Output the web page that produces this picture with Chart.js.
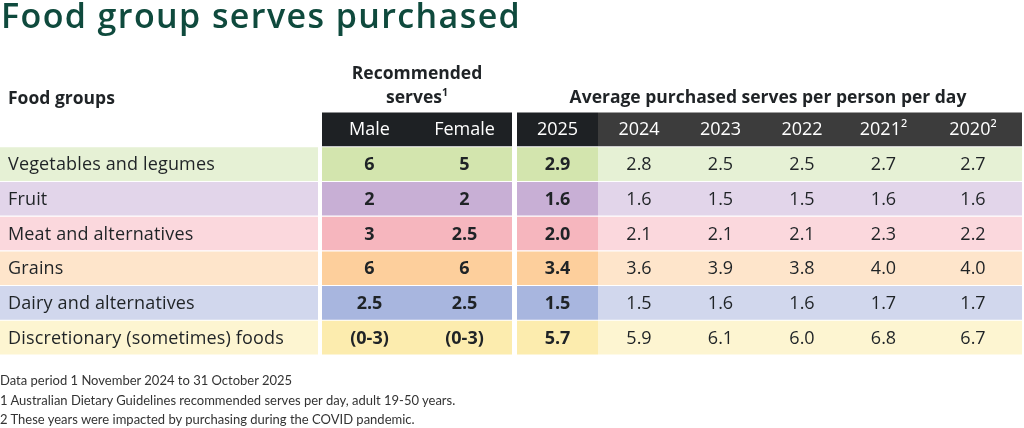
<!DOCTYPE html>
<html>
<head>
<meta charset="utf-8">
<script src="https://cdn.jsdelivr.net/npm/chart.js@4.4.1/dist/chart.umd.min.js"></script>
<style>
  body { margin: 0; background: #fff; font-family: "Open Sans", Lato, sans-serif; color: #1f2326; }
  #wrap { position: relative; width: 1024px; height: 428px; overflow: hidden; }
  #wrap canvas { position: absolute; left: 0; top: 0; }
  .txt { position: absolute; white-space: nowrap; line-height: 1; }
  #title { left: 1px; top: -2px; font-size: 34px; font-weight: 600; letter-spacing: 1.4px; color: #0f4a3d; }
  .head { font-size: 17.5px; font-weight: 700; }
  .note { left: 0; font-family: Lato, sans-serif; font-size: 13px; color: #333; font-weight: 400; }
  sup { font-size: 60%; line-height: 0; }
</style>
</head>
<body>
<div id="wrap">
  <canvas id="serves-table" width="1024" height="428"></canvas>
  <div class="txt" id="title">Food group serves purchased</div>
  <div class="txt head" style="left:8px; top:89px;">Food groups</div>
  <div class="txt head" style="left:417px; top:64px; transform:translateX(-50%);">Recommended</div>
  <div class="txt head" style="left:417px; top:88px; transform:translateX(-50%);">serves<sup>1</sup></div>
  <div class="txt head" style="left:768px; top:88px; transform:translateX(-50%);">Average purchased serves per person per day</div>
  <div class="txt note" style="top:374px;">Data period 1 November 2024 to 31 October 2025</div>
  <div class="txt note" style="top:394px;">1 Australian Dietary Guidelines recommended serves per day, adult 19-50 years.</div>
  <div class="txt note" style="top:413px;">2 These years were impacted by purchasing during the COVID pandemic.</div>
</div>
<script>
// Table data
var foodGroups = [
  "Vegetables and legumes",
  "Fruit",
  "Meat and alternatives",
  "Grains",
  "Dairy and alternatives",
  "Discretionary (sometimes) foods",
];
var recommendedMale = ["6", "2", "3", "6", "2.5", "(0-3)"];
var recommendedFemale = ["5", "2", "2.5", "6", "2.5", "(0-3)"];
var yearLabels = ["2025", "2024", "2023", "2022", "2021\u00b2", "2020\u00b2"];
var serves2025 = [2.9, 1.6, 2.0, 3.4, 1.5, 5.7];
var serves2024 = [2.8, 1.6, 2.1, 3.6, 1.5, 5.9];
var serves2023 = [2.5, 1.5, 2.1, 3.9, 1.6, 6.1];
var serves2022 = [2.5, 1.5, 2.1, 3.8, 1.6, 6.0];
var serves2021 = [2.7, 1.6, 2.3, 4.0, 1.7, 6.8];
var serves2020 = [2.7, 1.6, 2.2, 4.0, 1.7, 6.7];

// Styling
var lightColors = ["#e6f1d5", "#e2d5ea", "#fbd8dd", "#fee5cb", "#d1d7ed", "#fdf5d1"];
var strongColors = ["#d3e5ae", "#c8afd5", "#f6b6be", "#fdcf9c", "#a8b6df", "#fcecae"];
var headDark = "#1e2124";
var headGrey = "#3c3c3c";
var cellFamily = "\"Open Sans\", Lato, sans-serif";

document.addEventListener("DOMContentLoaded", function () {
  var canvas = document.getElementById("serves-table");

  // one dataset per table column, each cell is a floating bar [left, right]
  function column(left, right, header, cells, opts) {
    var data = [header === null ? null : [left, right]];
    var texts = [header];
    cells.forEach(function (c) {
      data.push([left, right]);
      texts.push(c);
    });
    var bg = [opts.head || "transparent"].concat(opts.colors);
    return {
      data: data,
      texts: texts,
      backgroundColor: bg,
      hoverBackgroundColor: bg,
      leftText: !!opts.leftText,
      spacing: opts.spacing || "0px",
      cellFont: opts.cellFont || "400 18px " + cellFamily,
      headFont: "400 18px " + cellFamily,
      grouped: false,
      barPercentage: 0.97,
      categoryPercentage: 1,
      borderSkipped: false,
      borderWidth: 0,
    };
  }

  var fmt = function (arr) {
    return arr.map(function (v) { return v.toFixed(1); });
  };
  var bold = "700 18px " + cellFamily;

  var datasets = [
    column(0, 318, null, foodGroups, { colors: lightColors, leftText: true, spacing: "0.15px", cellFont: "500 18px " + cellFamily }),
    column(322, 417, "Male", recommendedMale, { colors: strongColors, head: headDark, cellFont: bold }),
    column(417, 512, "Female", recommendedFemale, { colors: strongColors, head: headDark, cellFont: bold }),
    column(517, 598, yearLabels[0], fmt(serves2025), { colors: strongColors, head: headDark, cellFont: bold }),
    column(598, 680, yearLabels[1], fmt(serves2024), { colors: lightColors, head: headGrey }),
    column(680, 761, yearLabels[2], fmt(serves2023), { colors: lightColors, head: headGrey }),
    column(761, 843, yearLabels[3], fmt(serves2022), { colors: lightColors, head: headGrey }),
    column(843, 924, yearLabels[4], fmt(serves2021), { colors: lightColors, head: headGrey }),
    column(924, 1022, yearLabels[5], fmt(serves2020), { colors: lightColors, head: headGrey }),
  ];

  var cellText = {
    id: "cellText",
    afterDatasetsDraw: function (chart) {
      var ctx = chart.ctx;
      chart.data.datasets.forEach(function (ds, i) {
        var meta = chart.getDatasetMeta(i);
        meta.data.forEach(function (bar, j) {
          var txt = ds.texts[j];
          if (!txt) return;
          var p = bar.getProps(["x", "y", "base"], true);
          ctx.save();
          ctx.font = j === 0 ? ds.headFont : ds.cellFont;
          ctx.letterSpacing = ds.spacing;
          ctx.fillStyle = j === 0 ? "#ffffff" : "#1f2326";
          ctx.textBaseline = "middle";
          if (ds.leftText) {
            ctx.textAlign = "left";
            ctx.fillText(txt, Math.min(p.x, p.base) + 8, p.y + 1);
          } else {
            ctx.textAlign = "center";
            ctx.fillText(txt, (p.x + p.base) / 2, p.y + 1);
          }
          ctx.restore();
        });
      });
    },
  };

  new Chart(canvas, {
    type: "bar",
    data: {
      labels: ["header"].concat(foodGroups),
      datasets: datasets,
    },
    options: {
      indexAxis: "y",
      responsive: false,
      animation: false,
      events: [],
      layout: { padding: { top: 112, bottom: 73, left: 0, right: 0 } },
      plugins: {
        legend: { display: false },
        tooltip: { enabled: false },
      },
      scales: {
        x: { type: "linear", min: 0, max: 1024, display: false },
        y: { display: false, grid: { display: false } },
      },
    },
    plugins: [cellText],
  });
});
</script>
</body>
</html>
